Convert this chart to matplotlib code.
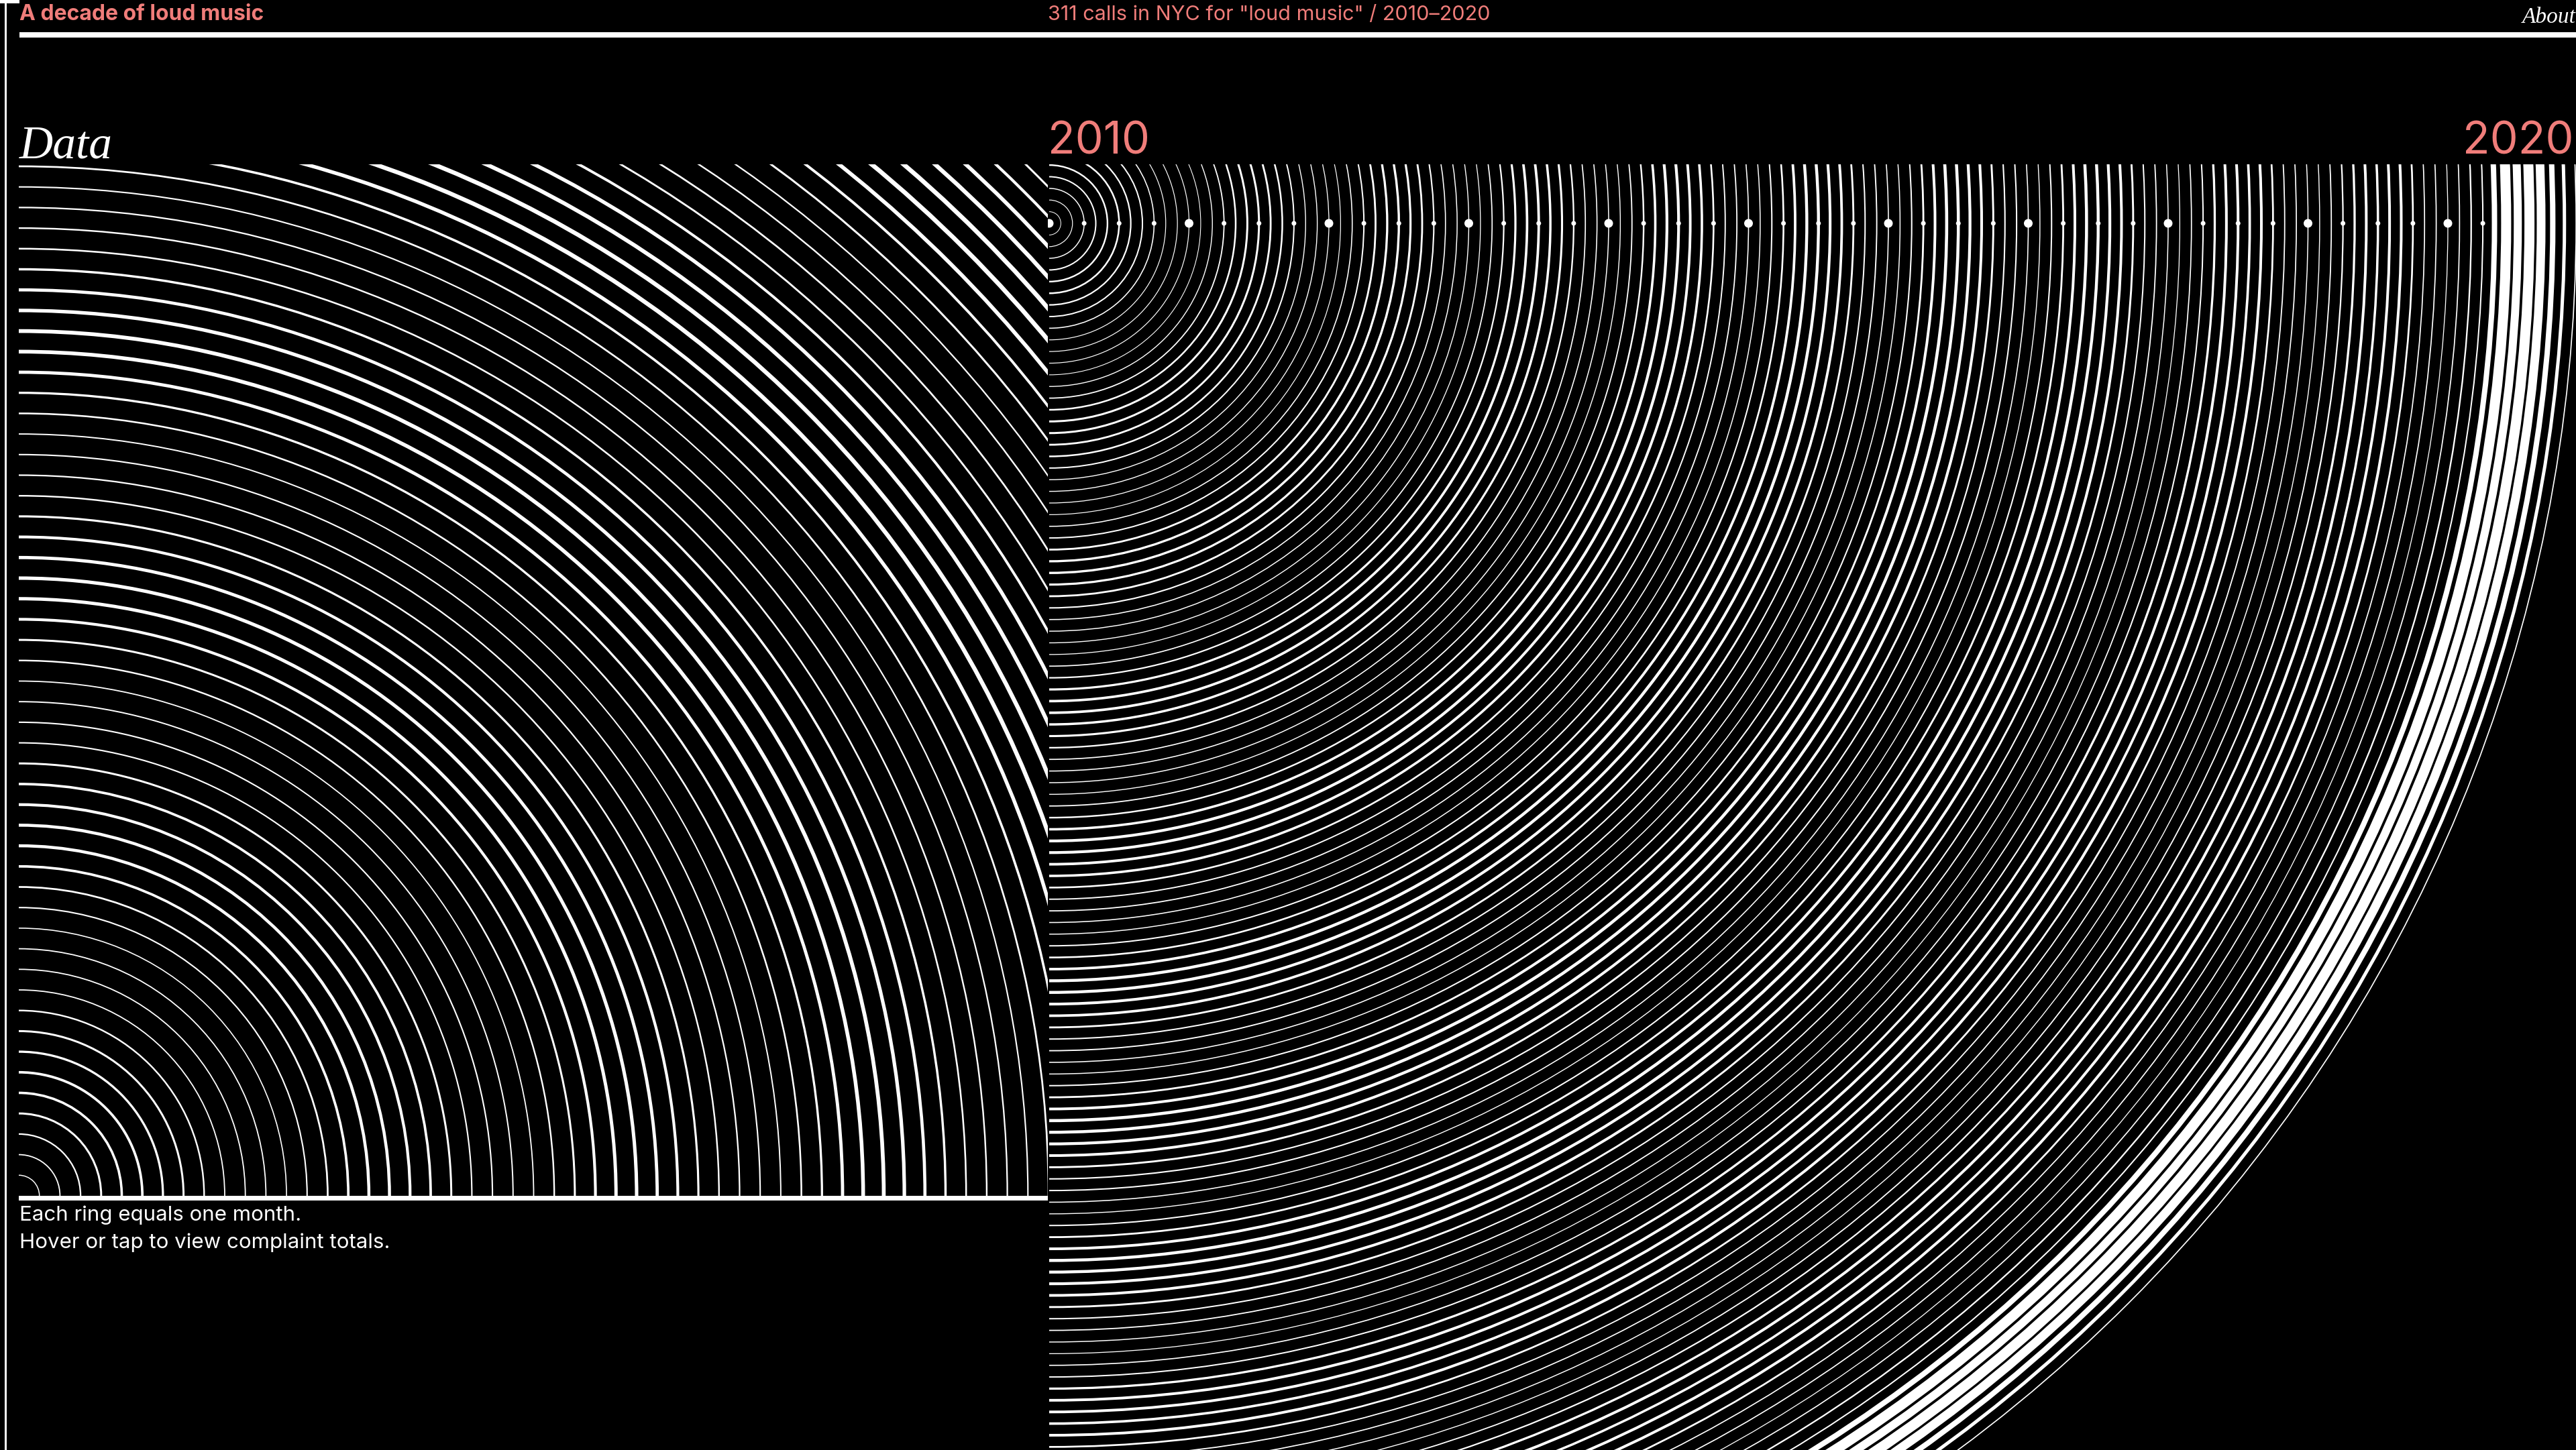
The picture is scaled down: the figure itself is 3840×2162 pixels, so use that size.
import matplotlib
matplotlib.use("Agg")
import matplotlib.pyplot as plt
from matplotlib.patches import Arc, Rectangle, Circle

# ---------------- data: 311 "loud music" calls per month, 2010-2020 ----------------
years = list(range(2010, 2021))
calls_2010 = [2000, 2000, 2400, 3000, 4000, 4800, 5000, 4400, 4000, 3200, 2400, 2400]
calls_2011 = [2400, 2200, 2800, 3600, 5000, 6000, 6000, 5600, 5000, 4000, 2800, 2800]
calls_2012 = [2600, 2400, 3200, 4000, 5600, 6600, 6800, 6400, 5600, 4200, 3200, 3000]
calls_2013 = [2800, 2600, 3400, 4400, 6400, 7400, 7600, 7000, 6200, 4600, 3400, 3200]
calls_2014 = [3000, 2800, 3600, 4800, 7200, 8400, 8400, 7800, 7200, 5200, 3800, 3600]
calls_2015 = [3200, 3000, 4000, 5200, 7600, 8800, 8800, 8200, 7600, 5600, 4000, 3800]
calls_2016 = [3200, 3000, 4000, 5600, 8000, 9200, 9000, 8600, 8000, 5800, 4200, 4000]
calls_2017 = [3200, 2800, 4000, 5600, 8000, 9000, 8800, 8400, 8000, 5800, 4000, 3600]
calls_2018 = [3000, 2600, 3400, 4000, 6600, 8000, 8000, 7400, 8000, 5400, 3600, 3400]
calls_2019 = [3000, 2800, 3600, 4400, 6600, 8000, 7000, 8000, 8000, 5400, 3400, 3400]
calls_2020 = [2600, 3400, 4600, 4000, 16000, 30000, 24000, 30000, 26000, 16000, 10000, 3400]

calls = (calls_2010 + calls_2011 + calls_2012 + calls_2013 + calls_2014 + calls_2015 +
         calls_2016 + calls_2017 + calls_2018 + calls_2019 + calls_2020)

# ---------------- layout (pixels) ----------------
W, H = 3840, 2162
DPI = 100
PT = 72.0 / DPI            # px -> points
SALMON = "#F07D7A"
SANS = ["Inter", "DejaVu Sans"]
SERIF = ["Liberation Serif", "DejaVu Serif"]
CALLS_PER_PX = 2000.0

fig = plt.figure(figsize=(W / DPI, H / DPI), dpi=DPI, facecolor="black")


def px_axes(x0, y0, x1, y1):
    """Axes occupying pixel box (x0,y0)-(x1,y1), top-left origin, data units = pixels."""
    a = fig.add_axes([x0 / W, (H - y1) / H, (x1 - x0) / W, (y1 - y0) / H])
    a.set_xlim(x0, x1)
    a.set_ylim(y1, y0)
    a.axis("off")
    a.set_facecolor("black")
    return a


# full-figure overlay axes for text and rules
base = px_axes(0, 0, W, H)

# ---- left panel: quarter rings ----
lax = px_axes(28, 245, 1562, 1783)
lcx, lcy = 28, 1783
lstep = 30.7
for k, c in enumerate(calls):
    r = k * lstep
    if r <= 0 or r > 2250:
        continue
    lax.add_patch(Arc((lcx, lcy), 2 * r, 2 * r, theta1=-90, theta2=0,
                      color="white", lw=1.5 * c / CALLS_PER_PX * PT))

# ---- right panel: half rings ----
rax = px_axes(1562, 245, W, H)
rcx, rcy = 1564, 333
rstep = 17.375
for k, c in enumerate(calls):
    r = k * rstep
    if r <= 0:
        continue
    rax.add_patch(Arc((rcx, rcy), 2 * r, 2 * r, theta1=-90, theta2=90,
                      color="white", lw=c / CALLS_PER_PX * PT))
for k in range(0, len(calls), 3):
    rad = 6.5 if k % 12 == 0 else 3.5
    rax.add_patch(Circle((rcx + k * rstep, rcy), rad, color="white", lw=0))

# ---- rules / frame ----
base.add_patch(Rectangle((29, 48), W - 29, 8, color="white", lw=0))
base.add_patch(Rectangle((28, 1783), 1562 - 28, 7, color="white", lw=0))
base.add_patch(Rectangle((7, 0), 3, H, color="white", lw=0))
base.add_patch(Rectangle((0, 0), 29, 5, color="white", lw=0))

# ---- texts ----
base.text(29, 22, "A decade of loud music", color=SALMON, fontsize=23, fontweight="bold",
          family=SANS, ha="left", va="center")
base.text(1562, 22, "311 calls in NYC for \"loud music\" / 2010\u20132020", color=SALMON,
          fontsize=22, family=SANS, ha="left", va="center")
base.text(3840, 26, "About", color="white", fontsize=24, style="italic", family=SERIF,
          ha="right", va="center")
base.text(29, 236, "Data", color="white", fontsize=50, style="italic", family=SERIF,
          ha="left", va="baseline")
base.text(1562, 230, "2010", color=SALMON, fontsize=48, family=SANS, ha="left", va="baseline")
base.text(3836, 230, "2020", color=SALMON, fontsize=48, family=SANS, ha="right", va="baseline")
base.text(29, 1812, "Each ring equals one month.", color="white", fontsize=22.5, family=SANS,
          ha="left", va="center")
base.text(29, 1853, "Hover or tap to view complaint totals.", color="white", fontsize=22.5,
          family=SANS, ha="left", va="center")

fig.savefig("out.png", dpi=DPI, facecolor="black")
